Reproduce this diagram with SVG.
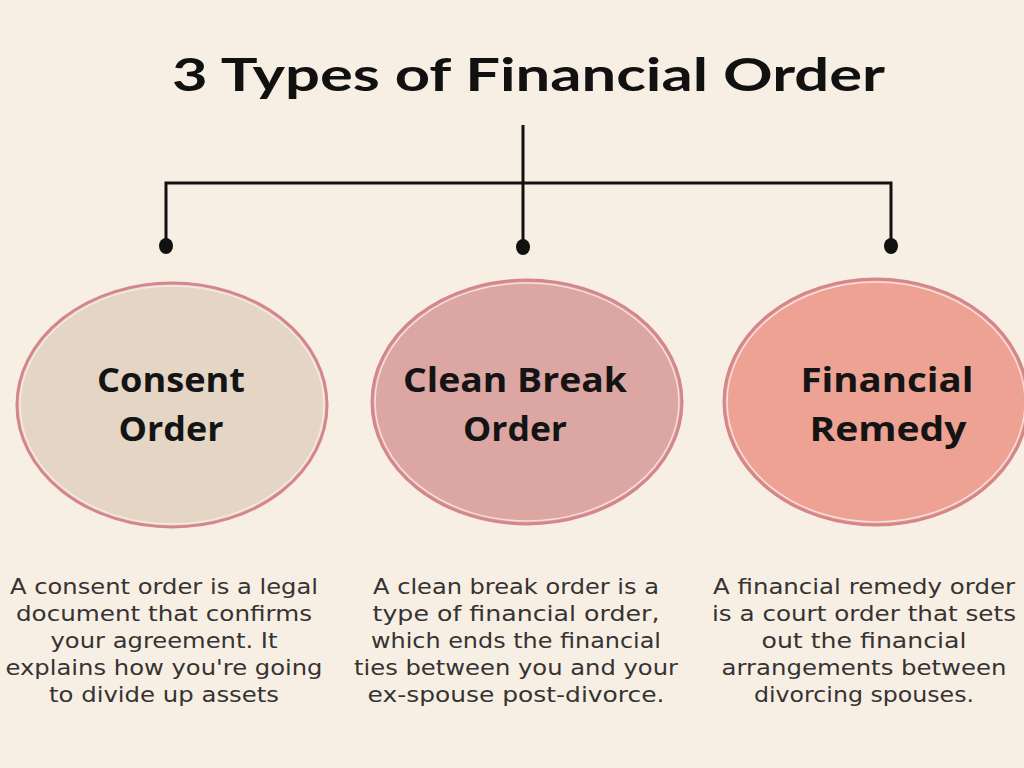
<svg xmlns="http://www.w3.org/2000/svg" width="1024" height="768" viewBox="0 0 1024 768">
<style>
.title{font-family:Lato,"Open Sans",sans-serif;font-weight:700;font-size:46px;fill:#111}
.lbl{font-family:"Open Sans",Lato,sans-serif;font-weight:700;font-size:34px;fill:#141414;text-anchor:middle}
.desc{font-family:"DejaVu Sans","Open Sans",sans-serif;font-size:21px;fill:#363333;text-anchor:middle}
.ring{stroke:#d4868a;stroke-width:3}
.hl{fill:none;stroke:#fbeeee;stroke-width:1.5;opacity:0.8}
.wire{stroke:#111;stroke-width:3;fill:none}
.dot{fill:#111}
</style>
<rect width="1024" height="768" fill="#f8efe4"/>
<text class="title" x="172" y="91" textLength="713" lengthAdjust="spacingAndGlyphs">3 Types of Financial Order</text>
<g id="connectors">
<path class="wire" d="M523 125 V246 M166 246 V183 H891 V246"/>
<ellipse class="dot" cx="166" cy="246" rx="7" ry="8"/>
<ellipse class="dot" cx="523" cy="247" rx="7" ry="8"/>
<ellipse class="dot" cx="891" cy="246" rx="7" ry="8"/>
</g>
<g id="consent">
<ellipse class="ring" cx="172" cy="405" rx="155" ry="122" fill="#e4d5c5"/>
<ellipse class="hl" cx="172" cy="405" rx="152" ry="119"/>
<text class="lbl" x="171" y="392" textLength="148" lengthAdjust="spacingAndGlyphs">Consent</text>
<text class="lbl" x="171" y="441" textLength="105" lengthAdjust="spacingAndGlyphs">Order</text>
<text class="desc" x="164" y="594" textLength="308" lengthAdjust="spacingAndGlyphs">A consent order is a legal</text>
<text class="desc" x="164" y="621" textLength="296" lengthAdjust="spacingAndGlyphs">document that confirms</text>
<text class="desc" x="164" y="648" textLength="227" lengthAdjust="spacingAndGlyphs">your agreement. It</text>
<text class="desc" x="164" y="675" textLength="317" lengthAdjust="spacingAndGlyphs">explains how you're going</text>
<text class="desc" x="164" y="702" textLength="230" lengthAdjust="spacingAndGlyphs">to divide up assets</text>
</g>
<g id="cleanbreak">
<ellipse class="ring" cx="527" cy="402" rx="155" ry="122" fill="#dca6a3"/>
<ellipse class="hl" cx="527" cy="402" rx="152" ry="119"/>
<text class="lbl" x="515" y="392" textLength="224" lengthAdjust="spacingAndGlyphs">Clean Break</text>
<text class="lbl" x="515" y="441" textLength="104" lengthAdjust="spacingAndGlyphs">Order</text>
<text class="desc" x="516" y="594" textLength="286" lengthAdjust="spacingAndGlyphs">A clean break order is a</text>
<text class="desc" x="516" y="621" textLength="287" lengthAdjust="spacingAndGlyphs">type of financial order,</text>
<text class="desc" x="516" y="648" textLength="290" lengthAdjust="spacingAndGlyphs">which ends the financial</text>
<text class="desc" x="516" y="675" textLength="324" lengthAdjust="spacingAndGlyphs">ties between you and your</text>
<text class="desc" x="516" y="702" textLength="297" lengthAdjust="spacingAndGlyphs">ex-spouse post-divorce.</text>
</g>
<g id="remedy">
<ellipse class="ring" cx="876" cy="402" rx="152" ry="123" fill="#eda293"/>
<ellipse class="hl" cx="876" cy="402" rx="149" ry="120"/>
<text class="lbl" x="887" y="392" textLength="173" lengthAdjust="spacingAndGlyphs">Financial</text>
<text class="lbl" x="888" y="441" textLength="157" lengthAdjust="spacingAndGlyphs">Remedy</text>
<text class="desc" x="864" y="594" textLength="302" lengthAdjust="spacingAndGlyphs">A financial remedy order</text>
<text class="desc" x="864" y="621" textLength="304" lengthAdjust="spacingAndGlyphs">is a court order that sets</text>
<text class="desc" x="864" y="648" textLength="205" lengthAdjust="spacingAndGlyphs">out the financial</text>
<text class="desc" x="864" y="675" textLength="285" lengthAdjust="spacingAndGlyphs">arrangements between</text>
<text class="desc" x="864" y="702" textLength="220" lengthAdjust="spacingAndGlyphs">divorcing spouses.</text>
</g>
</svg>
